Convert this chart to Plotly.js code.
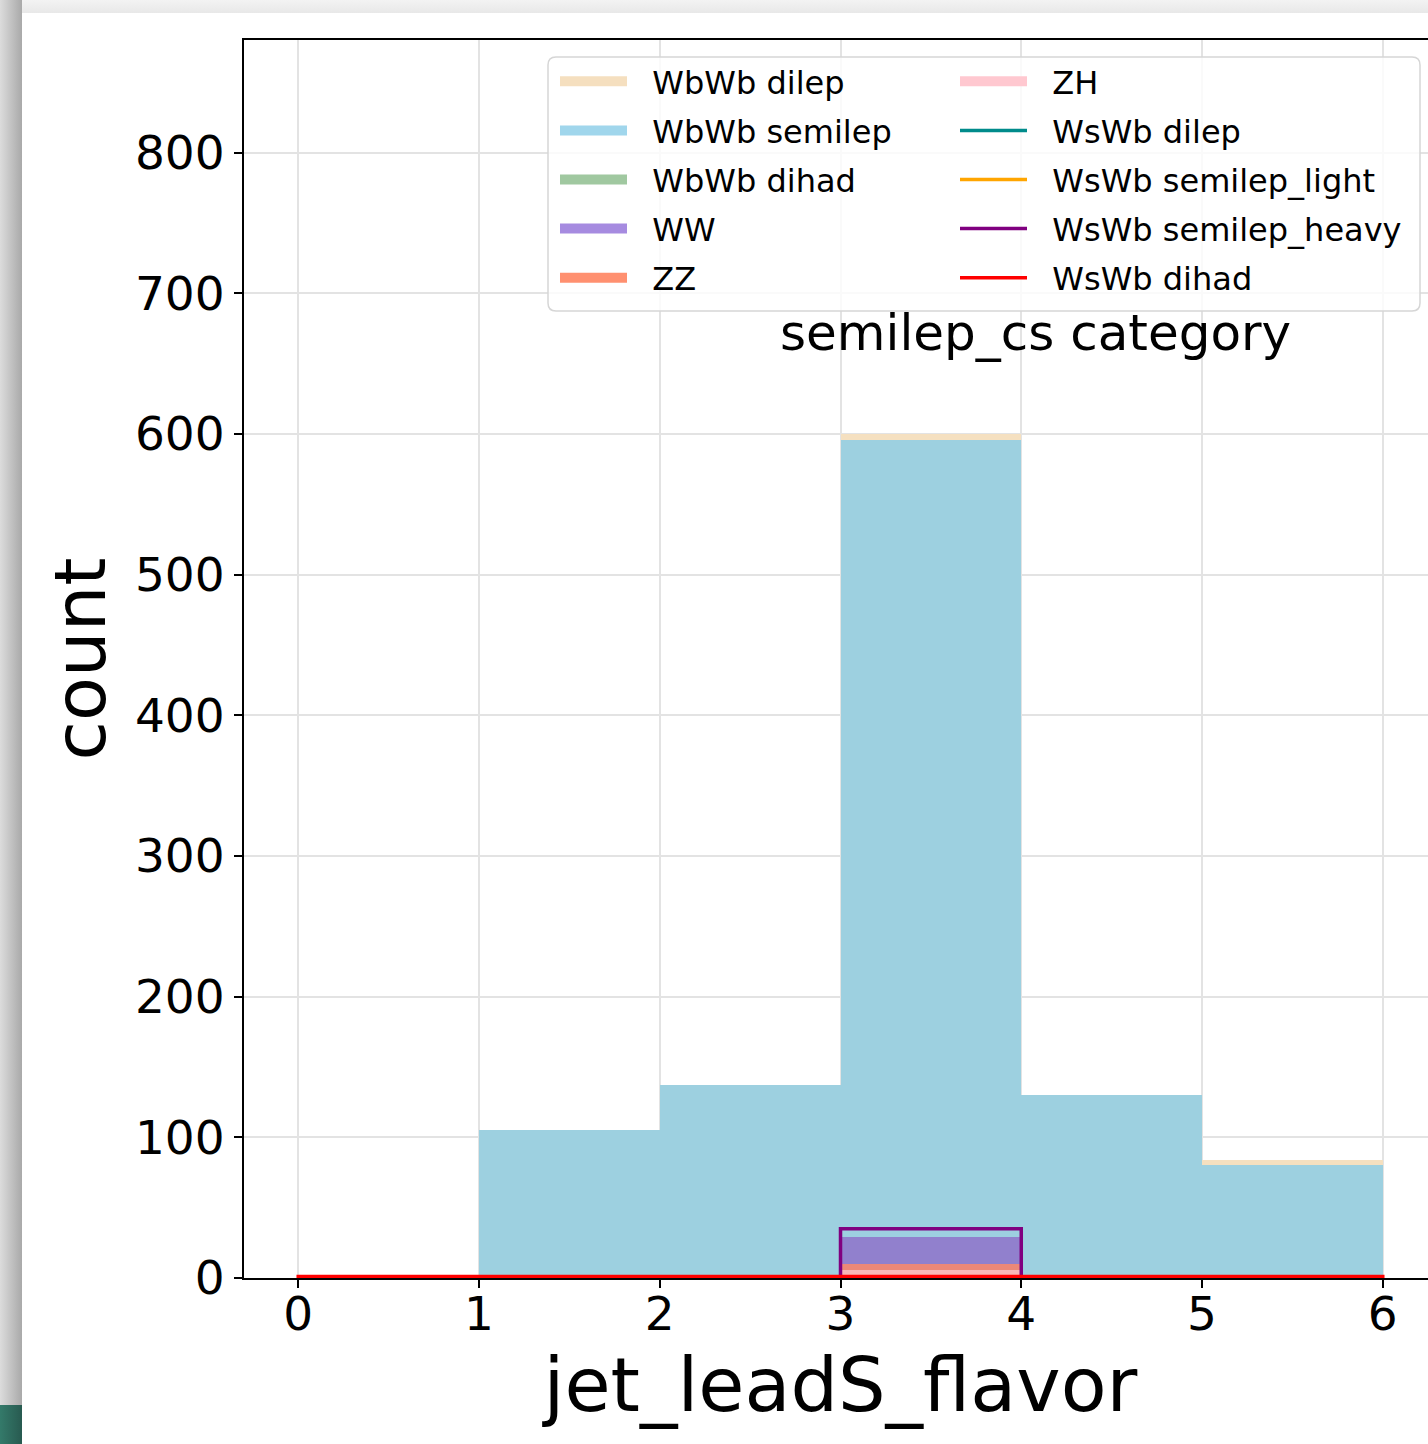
<!DOCTYPE html>
<html><head><meta charset="utf-8">
<script src="https://cdn.plot.ly/plotly-3.0.1.min.js"></script>
<style>
html,body{margin:0;padding:0;overflow:hidden;background:#fff;width:1428px;height:1444px}
#chart{position:absolute;left:0;top:0;width:1460px;height:1444px}
.deco{position:absolute;pointer-events:none}
</style></head><body>
<div id="chart"></div>
<div class="deco" style="left:0;top:0;width:1428px;height:13px;background:linear-gradient(#f3f3f3,#e8e8e8)"></div>
<div class="deco" style="left:0;top:0;width:22px;height:1405px;background:linear-gradient(to right,#dcdcdc,#a9a9a9)"></div>
<div class="deco" style="left:0;top:1405px;width:22px;height:39px;background:linear-gradient(to right,#347a6a,#285a50)"></div>
<script>
// histogram bins of jet_leadS_flavor
const binEdges = [0, 1, 2, 3, 4, 5, 6];
// stacked filled histograms (counts per bin)
const wbwbDilep   = [0, 0, 0, 4, 0, 4];
const wbwbSemilep = [0, 105, 137, 567, 128, 80];
const wbwbDihad   = [0, 0, 0, 0, 0, 0];
const wwCounts    = [0, 0, 0, 19, 2, 0];
const zzCounts    = [0, 0, 0, 4, 0, 0];
const zhCounts    = [0, 0, 0, 6, 0, 0];
// step histograms (signal)
const wswbDilep        = [0, 0, 0, 0, 0, 0];
const wswbSemilepLight = [0, 0, 0, 0, 0, 0];
const wswbSemilepHeavy = [0, 0, 0, 35, 0, 0];
const wswbDihad        = [1, 1, 1, 1, 1, 1];
const yTicks = [0, 100, 200, 300, 400, 500, 600, 700, 800];
const xTicks = [0, 1, 2, 3, 4, 5, 6];

const centers = binEdges.slice(0, -1).map((e, i) => (e + binEdges[i + 1]) / 2);
const widths = binEdges.slice(0, -1).map((e, i) => binEdges[i + 1] - e);
const FONT = 'DejaVu Sans, sans-serif';
const GAP = '\u00a0\u00a0';

function barTrace(name, vals, color) {
  return {type: 'bar', name: name, x: centers, y: vals, width: widths,
    marker: {color: color, line: {width: 0}}, showlegend: false,
    legendgroup: name, hoverinfo: 'name+y'};
}
// legend entry drawn as a wide patch for a filled histogram
function patchLegend(name, color, rank, legend) {
  return {type: 'scatter', mode: 'lines', name: GAP + name, x: [null], y: [null],
    line: {color: color, width: 18}, legend: legend, legendrank: rank,
    legendgroup: name, hoverinfo: 'skip'};
}
function stepTrace(name, vals, color, rank) {
  const ys = vals.concat([vals[vals.length - 1]]);
  return {type: 'scatter', mode: 'lines', name: GAP + name,
    x: [binEdges[0]].concat(binEdges, [binEdges[binEdges.length - 1]]),
    y: [0].concat(ys, [0]),
    line: {shape: 'hv', color: color, width: 3.5}, legend: 'legend2', legendrank: rank,
    legendgroup: name, hoverinfo: 'name+y'};
}

// bar fills as they appear in the plot, and the legend patch colours
const BAR = {
  dilep: 'rgba(245,224,192,1)', semilep: 'rgba(157,208,224,1)',
  dihad: 'rgba(150,196,150,1)', ww: 'rgba(145,128,205,1)',
  zz: 'rgba(236,136,120,1)', zh: 'rgba(248,184,184,1)'
};
const LEG = {
  dilep: '#f5dfbf', semilep: '#a0d6ec', dihad: '#a0c8a0',
  ww: '#a68be0', zz: '#ff9070', zh: '#ffc8d0'
};

const traces = [
  barTrace('ZH', zhCounts, BAR.zh),
  barTrace('ZZ', zzCounts, BAR.zz),
  barTrace('WW', wwCounts, BAR.ww),
  barTrace('WbWb dihad', wbwbDihad, BAR.dihad),
  barTrace('WbWb semilep', wbwbSemilep, BAR.semilep),
  barTrace('WbWb dilep', wbwbDilep, BAR.dilep),
  patchLegend('WbWb dilep', LEG.dilep, 1, 'legend'),
  patchLegend('WbWb semilep', LEG.semilep, 2, 'legend'),
  patchLegend('WbWb dihad', LEG.dihad, 3, 'legend'),
  patchLegend('WW', LEG.ww, 4, 'legend'),
  patchLegend('ZZ', LEG.zz, 5, 'legend'),
  patchLegend('ZH', LEG.zh, 1, 'legend2'),
  stepTrace('WsWb dilep', wswbDilep, '#008b8b', 2),
  stepTrace('WsWb semilep_light', wswbSemilepLight, '#ffa500', 3),
  stepTrace('WsWb semilep_heavy', wswbSemilepHeavy, '#800080', 4),
  stepTrace('WsWb dihad', wswbDihad, '#ff0000', 5)
];

const W = 1460, H = 1444;
const PL = 244, PR = 1437, PT = 40, PB = 1278;
const px2x = p => (p - PL) / (PR - PL);
const py2y = p => (PB - p) / (PB - PT);

const legendCommon = {
  font: {family: FONT, size: 32, color: '#000'}, bgcolor: 'rgba(0,0,0,0)',
  borderwidth: 0, xref: 'paper', yref: 'paper',
  xanchor: 'left', yanchor: 'top', tracegroupgap: 4.5, itemwidth: 67,
  traceorder: 'grouped'
};

// rounded legend frame
function roundRect(x0p, y0p, x1p, y1p, r) {
  const X = px2x, Y = py2y;
  return 'M' + X(x0p + r) + ',' + Y(y0p) +
    ' L' + X(x1p - r) + ',' + Y(y0p) + ' Q' + X(x1p) + ',' + Y(y0p) + ' ' + X(x1p) + ',' + Y(y0p + r) +
    ' L' + X(x1p) + ',' + Y(y1p - r) + ' Q' + X(x1p) + ',' + Y(y1p) + ' ' + X(x1p - r) + ',' + Y(y1p) +
    ' L' + X(x0p + r) + ',' + Y(y1p) + ' Q' + X(x0p) + ',' + Y(y1p) + ' ' + X(x0p) + ',' + Y(y1p - r) +
    ' L' + X(x0p) + ',' + Y(y0p + r) + ' Q' + X(x0p) + ',' + Y(y0p) + ' ' + X(x0p + r) + ',' + Y(y0p) + ' Z';
}

const layout = {
  width: W, height: H,
  margin: {l: PL, r: W - PR, t: PT, b: H - PB, autoexpand: false},
  paper_bgcolor: '#fff', plot_bgcolor: '#fff',
  font: {family: FONT, color: '#000'},
  barmode: 'stack', bargap: 0,
  showlegend: true,
  xaxis: {
    range: [-0.3, 6.3], tickvals: xTicks, ticktext: xTicks.map(String),
    showgrid: true, gridcolor: '#e3e3e3', gridwidth: 1.5,
    showline: true, mirror: true, linecolor: '#000', linewidth: 2,
    ticks: 'outside', ticklen: 8, tickwidth: 2, tickcolor: '#000',
    ticklabelstandoff: -14,
    tickfont: {family: FONT, size: 47, color: '#000'},
    zeroline: false,
    title: {text: 'jet_leadS_flavor', font: {family: FONT, size: 75, color: '#000'}, standoff: 10}
  },
  yaxis: {
    range: [0, 880], tickvals: yTicks, ticktext: yTicks.map(String),
    showgrid: true, gridcolor: '#e3e3e3', gridwidth: 1.5,
    showline: true, mirror: true, linecolor: '#000', linewidth: 2,
    ticks: 'outside', ticklen: 8, tickwidth: 2, tickcolor: '#000',
    tickfont: {family: FONT, size: 47, color: '#000'},
    zeroline: false,
    title: {text: 'count', font: {family: FONT, size: 72, color: '#000'}, standoff: 6}
  },
  legend: Object.assign({}, legendCommon, {x: px2x(555), y: py2y(54)}),
  legend2: Object.assign({}, legendCommon, {x: px2x(955), y: py2y(54)}),
  shapes: [{
    type: 'path', xref: 'paper', yref: 'paper', layer: 'above',
    path: roundRect(548, 57, 1420, 311, 8),
    fillcolor: 'rgba(255,255,255,0.8)', line: {color: '#d6d6d6', width: 1.5}
  }],
  annotations: [{
    text: 'semilep_cs category', xref: 'paper', yref: 'paper',
    x: px2x(1035), y: py2y(333),
    xanchor: 'center', yanchor: 'middle', showarrow: false,
    font: {family: FONT, size: 50, color: '#000'}
  }]
};

Plotly.newPlot('chart', traces, layout, {displayModeBar: false});
</script>
</body></html>
